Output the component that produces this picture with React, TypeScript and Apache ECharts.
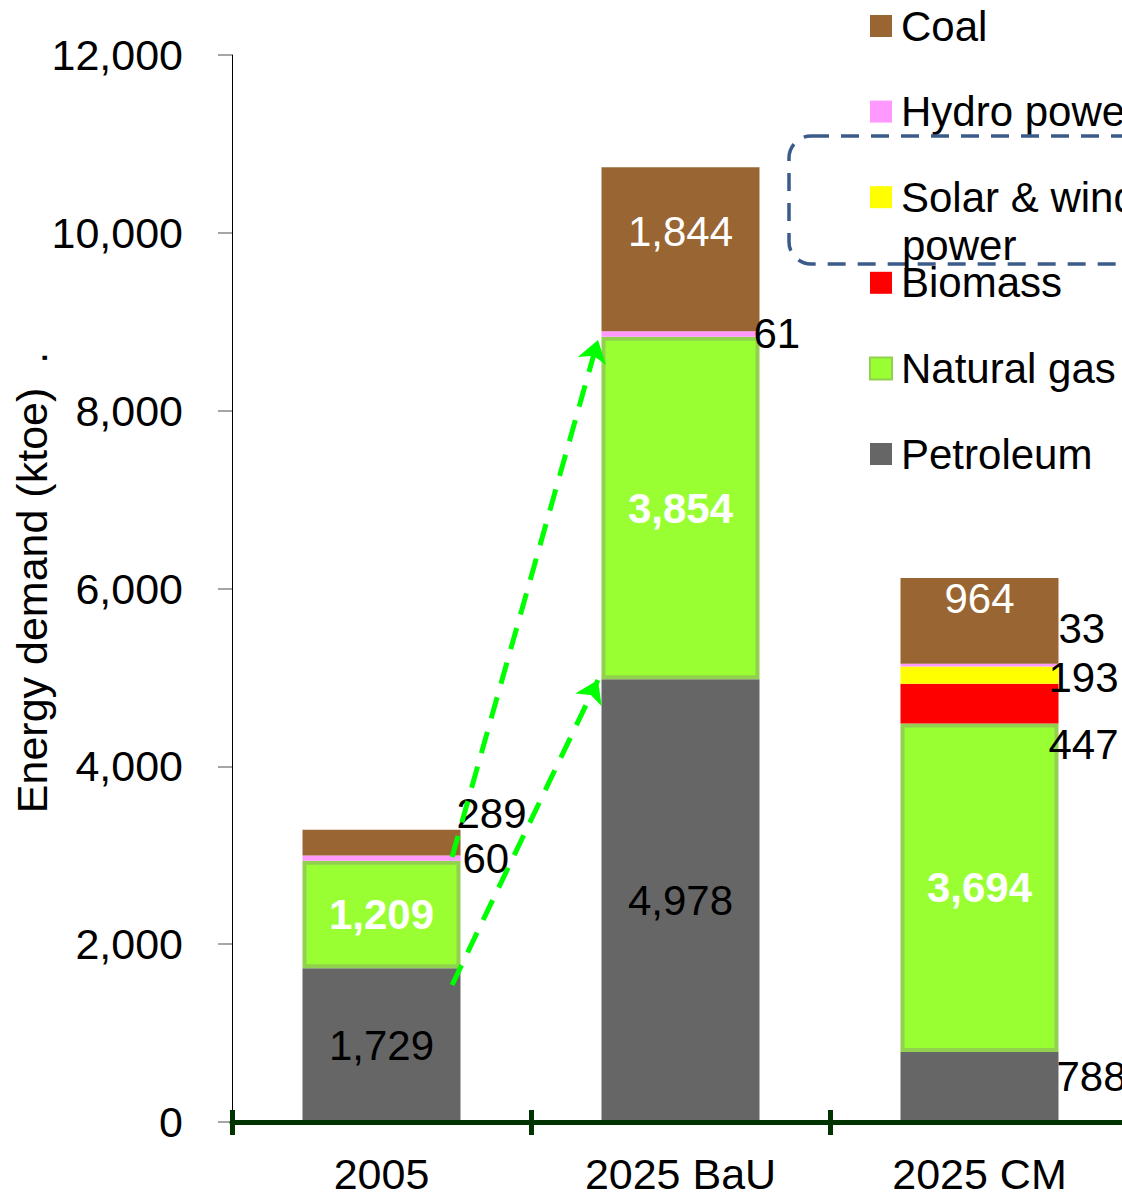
import React, { useEffect, useRef } from "react";
import * as echarts from "echarts";

const categories = ["2005", "2025 BaU", "2025 CM"];
const seriesNames = ["Petroleum", "Natural gas", "Biomass", "Solar & wind power", "Hydro power", "Coal"];
const petroleum = [1729, 4978, 788];
const naturalGas = [1209, 3854, 3694];
const biomass = [0, 0, 447];
const solarWind = [0, 0, 193];
const hydro = [60, 61, 33];
const coal = [289, 1844, 964];
const yTicks = { min: 0, max: 12000, interval: 2000 };
// arrows: [x (category units), y (ktoe)] start -> end
const arrowUpper = [[0.236, 2980], [0.724, 8796]];
const arrowLower = [[0.236, 1541], [0.724, 4971]];
const legendOrder = ["Coal", "Hydro power", "Solar & wind power", "Biomass", "Natural gas", "Petroleum"];

const FONT = "'Liberation Sans', Arial, sans-serif";
const FS = 42;
const AXFS = 43;

const fmt = (v: number) => Number(v).toLocaleString("en-US");

export default function App() {
  const ref = useRef<HTMLDivElement>(null);
  useEffect(() => {
    document.body.style.margin = "0";
    if (!ref.current) return;
    const chart = echarts.init(ref.current, undefined, { renderer: "svg" });

    const colors: Record<string, string> = {
      Petroleum: "#666666",
      "Natural gas": "#99ff33",
      Biomass: "#ff0000",
      "Solar & wind power": "#ffff00",
      "Hydro power": "#ff99ff",
      Coal: "#996633",
    };
    const values = [petroleum, naturalGas, biomass, solarWind, hydro, coal];

    const inside = (color: string, bold = false, offset: number[] = [0, 0]) => ({
      show: true,
      position: "inside",
      color,
      fontWeight: bold ? "bold" : "normal",
      fontSize: FS,
      fontFamily: FONT,
      offset,
      formatter: (p: any) => fmt(p.value),
    });
    const right = (offset: number[]) => ({
      show: true,
      position: "right",
      distance: 0,
      color: "#000",
      fontSize: FS,
      fontFamily: FONT,
      offset,
      formatter: (p: any) => fmt(p.value),
    });
    const none = { show: false };

    const labelCfg: any[][] = [
      [inside("#000"), inside("#000"), right([-2, -10])],
      [inside("#fff", true), inside("#fff", true), inside("#fff", true)],
      [none, none, right([-10, 41])],
      [none, none, right([-10, 2])],
      [right([2, 0]), right([-6, 0]), right([0, -37])],
      [right([-4, -29]), inside("#fff", false, [0, -18]), inside("#fff", false, [0, -22])],
    ];

    const bars = seriesNames.map((name, si) => ({
      name,
      type: "bar",
      stack: "total",
      barWidth: 158,
      xAxisIndex: 0,
      yAxisIndex: 0,
      itemStyle:
        name === "Natural gas"
          ? { color: colors[name], borderColor: "#92d050", borderWidth: 4 }
          : { color: colors[name] },
      data: values[si].map((v, i) => ({ value: v, label: labelCfg[si][i] })),
    }));

    const arrowSeries = {
      type: "lines",
      coordinateSystem: "cartesian2d",
      xAxisIndex: 2,
      yAxisIndex: 0,
      symbol: ["none", "arrow"],
      symbolSize: [16, 22],
      silent: true,
      lineStyle: { color: "#00ff00", width: 5, type: [22, 14], opacity: 1 },
      data: [{ coords: arrowUpper }, { coords: arrowLower }],
      z: 10,
    };

    const axisGreen = "#003300";

    chart.setOption({
      animation: false,
      textStyle: { fontFamily: FONT },
      grid: {
        left: 232,
        right: -7,
        top: 55,
        bottom: 70,
        containLabel: false,
        outerBoundsMode: "none",
      },
      legend: {
        data: legendOrder,
        orient: "vertical",
        left: 869,
        top: 2,
        padding: 0,
        itemWidth: 22,
        itemHeight: 22,
        itemGap: 37.6,
        icon: "rect",
        selectedMode: false,
        formatter: (n: string) => (n === "Solar & wind power" ? "Solar & wind" : n),
        textStyle: {
          fontSize: FS,
          fontFamily: FONT,
          color: "#000",
          lineHeight: 48,
          padding: [0, 0, 0, 4],
        },
      },
      xAxis: [
        {
          type: "category",
          data: categories,
          position: "bottom",
          axisLine: { show: true, lineStyle: { color: axisGreen, width: 5 } },
          axisTick: { show: true, length: 13, lineStyle: { color: axisGreen, width: 5 } },
          axisLabel: { fontSize: AXFS, color: "#000", fontFamily: FONT, margin: 30 },
          splitLine: { show: false },
          z: 5,
        },
        {
          type: "category",
          data: categories,
          position: "bottom",
          axisLine: { show: false },
          axisTick: { show: true, inside: true, length: 12, lineStyle: { color: axisGreen, width: 5 } },
          axisLabel: { show: false },
          splitLine: { show: false },
          z: 5,
        },
        {
          type: "value",
          min: -0.5,
          max: 2.5,
          show: false,
          position: "bottom",
        },
      ],
      yAxis: [
        {
          type: "value",
          min: yTicks.min,
          max: yTicks.max,
          interval: yTicks.interval,
          name: " Energy demand (ktoe)  .",
          nameLocation: "middle",
          nameGap: 179,
          nameMoveOverlap: false,
          nameTextStyle: { fontSize: AXFS, color: "#000", fontFamily: FONT },
          axisLine: { show: true, onZero: false, lineStyle: { color: "#000", width: 1 } },
          axisTick: { show: true, length: 14, lineStyle: { color: "#888888", width: 1.5 } },
          axisLabel: {
            fontSize: AXFS,
            color: "#000",
            fontFamily: FONT,
            margin: 49,
            formatter: (v: number) => fmt(v),
          },
          splitLine: { show: false },
        },
      ],
      graphic: [
        {
          type: "rect",
          shape: { x: 789, y: 136, width: 420, height: 128, r: 22 },
          style: { fill: "none", stroke: "#3b5b8a", lineWidth: 3.5, lineDash: [18, 12] },
          z: 20,
          silent: true,
        },
        {
          type: "text",
          x: 902,
          y: 245,
          style: {
            text: "power",
            fontSize: FS,
            fontFamily: FONT,
            fill: "#000",
            verticalAlign: "middle",
          },
          z: 20,
        },
      ],
      series: [...bars, arrowSeries],
    });

    return () => chart.dispose();
  }, []);

  return <div ref={ref} style={{ width: 1122, height: 1192 }} />;
}
